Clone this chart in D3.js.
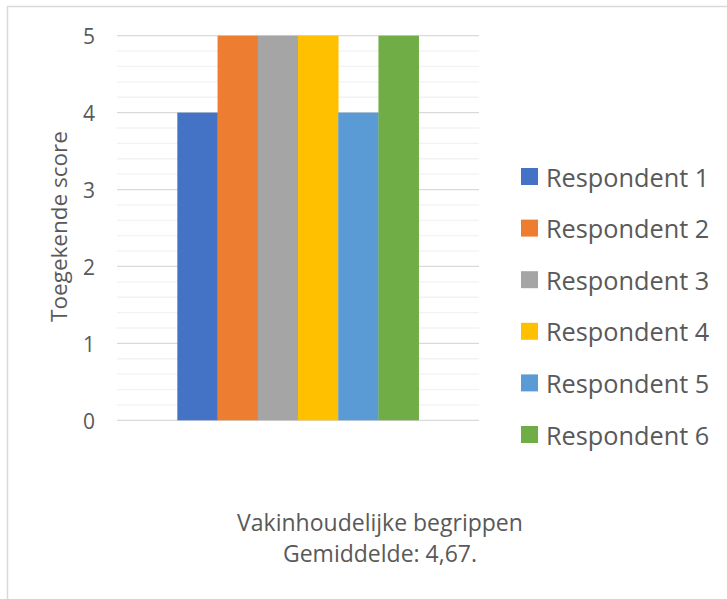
<!DOCTYPE html>
<html>
<head>
<meta charset="utf-8">
<script src="https://cdn.jsdelivr.net/npm/d3@7"></script>
<style>
  html, body { margin: 0; padding: 0; background: #fff; }
  svg { display: block; }
  text { font-family: "Open Sans", sans-serif; fill: #595959; }
</style>
</head>
<body>
<svg id="chart" width="727" height="599"></svg>
<script>
// Scores per respondent for one category
const categories = ["Vakinhoudelijke begrippen"];
const series = ["Respondent 1", "Respondent 2", "Respondent 3", "Respondent 4", "Respondent 5", "Respondent 6"];
const values = [4, 5, 5, 5, 4, 5];
const colors = ["#4472C4", "#ED7D31", "#A5A5A5", "#FFC000", "#5B9BD5", "#70AD47"];
const yTicks = [0, 1, 2, 3, 4, 5];
const yTitle = "Toegekende score";
const footer = ["Vakinhoudelijke begrippen", "Gemiddelde: 4,67."];

const svg = d3.select("#chart");

// chart frame (runs off the right and bottom edges)
svg.append("rect")
  .attr("x", 7.5).attr("y", 6.5)
  .attr("width", 760).attr("height", 620)
  .attr("fill", "#fff")
  .attr("stroke", "#d9d9d9")
  .attr("stroke-width", 1.5);

const plot = { left: 117, right: 479, top: 35.7, bottom: 420.3 };

const y = d3.scaleLinear().domain([0, 5]).range([plot.bottom, plot.top]);

// minor gridlines every 0.2
const minor = d3.range(0, 5.001, 0.2).filter(v => Math.abs(v - Math.round(v)) > 1e-6);
svg.append("g").selectAll("line").data(minor).join("line")
  .attr("x1", plot.left).attr("x2", plot.right)
  .attr("y1", d => y(d)).attr("y2", d => y(d))
  .attr("stroke", "#f2f2f2").attr("stroke-width", 1.3);

// major gridlines
svg.append("g").selectAll("line").data(yTicks).join("line")
  .attr("x1", plot.left).attr("x2", plot.right)
  .attr("y1", d => y(d)).attr("y2", d => y(d))
  .attr("stroke", "#d9d9d9").attr("stroke-width", 1.3);

// y axis labels
const yAxis = d3.axisLeft(y).tickValues(yTicks).tickFormat(d3.format("d"))
  .tickSize(0).tickPadding(22);
const ya = svg.append("g").attr("transform", `translate(${plot.left},0)`).call(yAxis);
ya.select(".domain").remove();
ya.attr("font-family", null).attr("font-size", null);
ya.selectAll("text")
  .style("font-family", '"Open Sans", sans-serif')
  .style("font-size", "21px")
  .attr("dy", null)
  .attr("dominant-baseline", "central")
  .attr("fill", "#595959");

// bars
const x0 = d3.scaleBand().domain(categories).range([plot.left, plot.right])
  .paddingInner(0.2).paddingOuter(0.2);
const x1 = d3.scaleBand().domain(series).range([0, x0.bandwidth()]);

const rows = series.map((s, i) => ({ series: s, value: values[i], color: colors[i] }));

svg.append("g")
  .attr("transform", `translate(${x0(categories[0])},0)`)
  .selectAll("rect").data(rows).join("rect")
  .attr("x", d => x1(d.series))
  .attr("width", x1.bandwidth() + 0.3)
  .attr("y", d => y(d.value))
  .attr("height", d => y(0) - y(d.value))
  .attr("fill", d => d.color);

// y axis title
svg.append("text")
  .attr("transform", "translate(58,226.5) rotate(-90)")
  .attr("text-anchor", "middle")
  .attr("dominant-baseline", "central")
  .style("font-size", "22.5px")
  .text(yTitle);

// legend
const legend = svg.append("g");
const ly = d3.scaleLinear().domain([0, series.length - 1]).range([176.5, 434.5]);
const item = legend.selectAll("g").data(rows).join("g")
  .attr("transform", (d, i) => `translate(521,${ly(i)})`);
item.append("rect")
  .attr("x", 0).attr("y", -8.5)
  .attr("width", 17).attr("height", 17)
  .attr("fill", d => d.color);
item.append("text")
  .attr("x", 25).attr("y", 0)
  .attr("dominant-baseline", "central")
  .style("font-size", "25.3px")
  .text(d => d.series);

// footer lines under the chart
svg.append("g").selectAll("text").data(footer).join("text")
  .attr("x", 380)
  .attr("y", (d, i) => 531 + i * 31)
  .attr("text-anchor", "middle")
  .style("font-size", "23px")
  .text(d => d);
</script>
</body>
</html>
